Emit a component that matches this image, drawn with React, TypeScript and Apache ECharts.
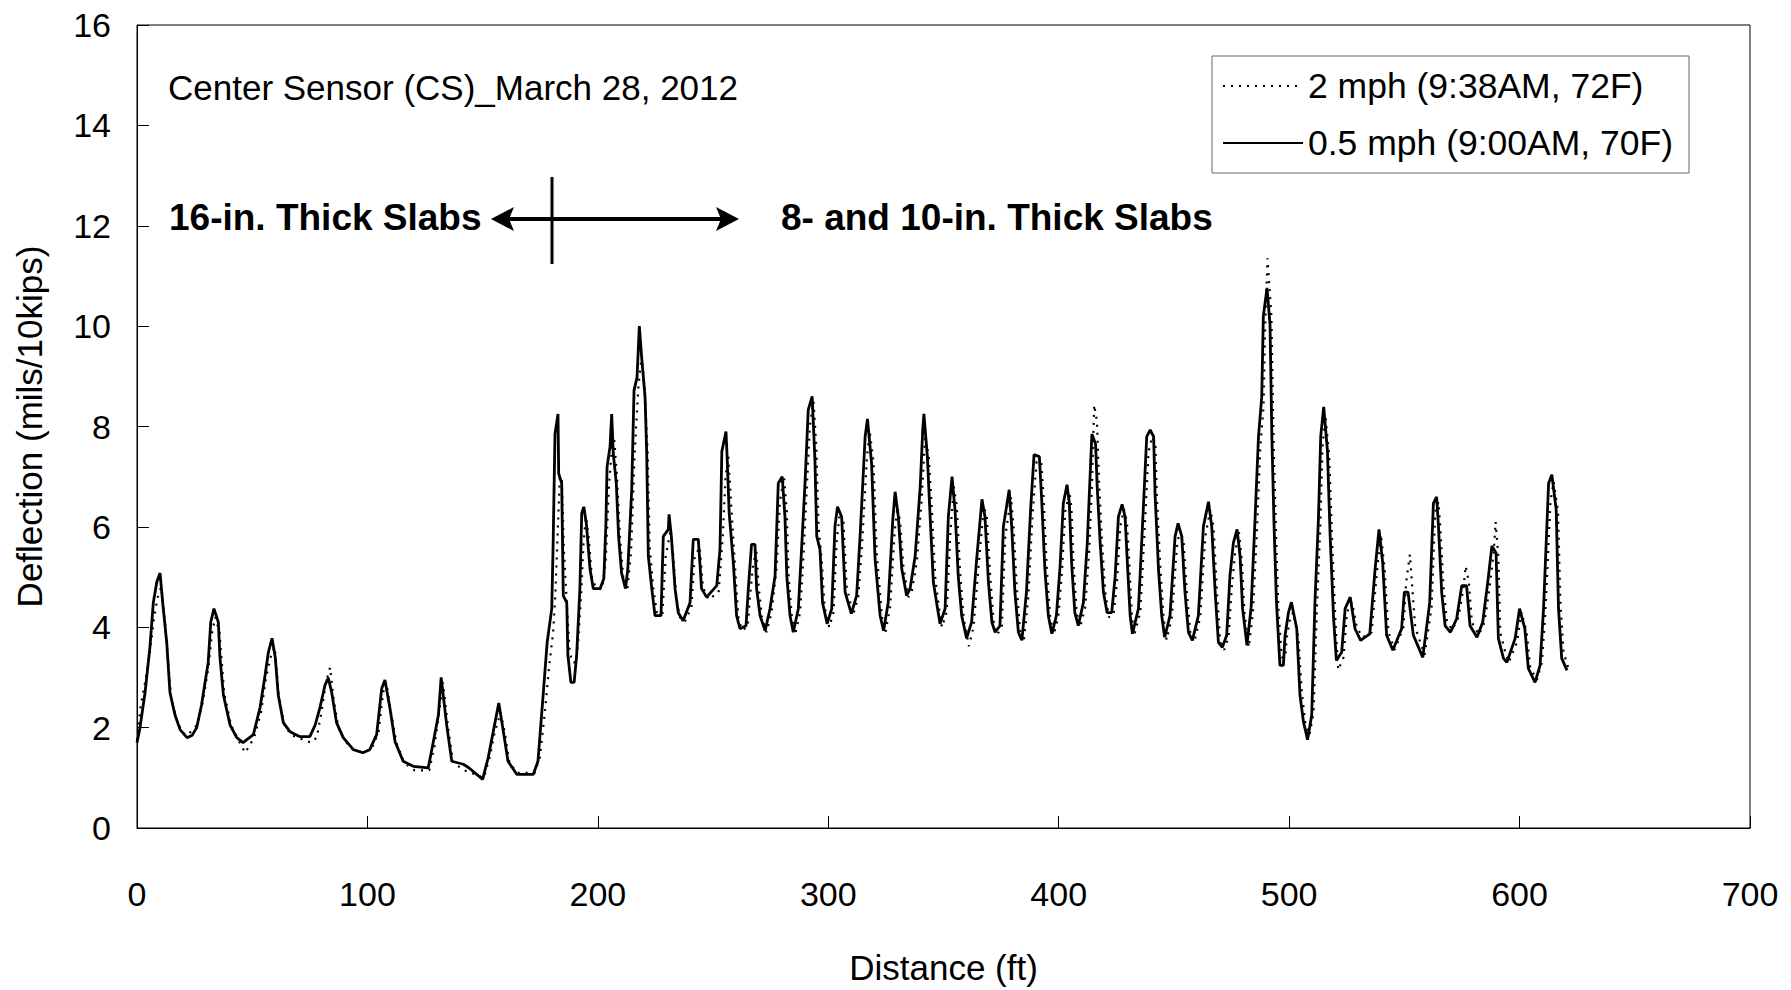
import React, { useEffect, useRef } from "react";
import * as echarts from "echarts";

// Distance (ft) vs deflection (mils/10kips)
const solid05mph: number[][] = [
  [0,1.7],[1.3,2.0],[3.5,2.7],[5.6,3.6],[7.1,4.5],[8.6,4.9],[10,5.08],[11.4,4.37],[12.9,3.7],[14.3,2.7],[16.5,2.25],[18.7,1.96],[21.7,1.8],[24,1.85],[25.9,2.0],[28,2.45],[30.9,3.3],[32,4.1],[33.4,4.37],[35.3,4.1],[36,3.4],[37.5,2.65],[40.4,2.05],[43.3,1.8],[46,1.7],[50.5,1.86],[53.4,2.4],[55.6,3.05],[57,3.5],[58.6,3.78],[60,3.4],[61.3,2.65],[63.5,2.1],[66.4,1.92],[70.7,1.82],[75,1.82],[77.3,2.05],[79.4,2.4],[81.6,2.85],[83,2.99],[84.5,2.7],[86.6,2.1],[89.5,1.8],[93.9,1.56],[98,1.5],[101,1.56],[104,1.86],[106.2,2.78],[107.6,2.95],[109.8,2.38],[112,1.72],[115.5,1.33],[119.9,1.23],[126.4,1.2],[128.6,1.72],[130.8,2.25],[132,3.0],[134.4,2.05],[136.6,1.33],[141.6,1.27],[144,1.2],[150,0.97],[152.4,1.4],[154.6,1.92],[157,2.49],[159,1.92],[161,1.33],[164.8,1.07],[172,1.07],[174,1.33],[176,2.5],[178,3.7],[180,4.37],[180.6,5.68],[181.4,7.85],[182.7,8.25],[183,7.06],[184.3,6.87],[185,4.63],[186.5,4.49],[187,3.44],[188.3,2.9],[189.7,2.9],[190.8,3.44],[192.2,4.77],[193,6.27],[193.9,6.4],[195,6.07],[196.6,5.16],[198,4.77],[201,4.77],[202.6,4.97],[203.5,6.07],[204,7.2],[205.3,7.6],[206,8.25],[206.7,7.46],[208,6.87],[209,5.81],[210.3,5.08],[212,4.77],[213,5.16],[214.7,6.74],[215.7,8.72],[217,8.98],[218,10.0],[219,9.38],[220.5,8.58],[221.2,7.46],[221.9,5.42],[223.4,4.77],[224.8,4.23],[227.4,4.23],[228.4,5.81],[230.6,5.95],[230.9,6.25],[231.9,5.81],[233.5,4.77],[234.9,4.29],[237,4.13],[240,4.49],[241.4,5.75],[243.6,5.75],[245,4.77],[247.2,4.6],[251.6,4.83],[253,5.55],[253.8,7.5],[255.6,7.9],[256,7.5],[257,6.27],[258.8,5.28],[260.2,4.23],[261.7,3.97],[264.3,4.03],[265.3,4.77],[266.7,5.65],[268.2,5.65],[268.9,4.77],[270.4,4.23],[272.6,3.93],[274.7,4.37],[276.9,5.02],[278.3,6.87],[280,7.0],[281.2,6.2],[282,5.02],[283.4,4.23],[284.8,3.9],[287,4.37],[288.4,5.55],[289.9,6.87],[291.3,8.33],[293,8.6],[294.2,7.34],[295,5.81],[296.4,5.55],[297.5,4.49],[299.5,4.07],[301.5,4.37],[302.9,6.01],[304,6.4],[305.8,6.2],[307.3,4.7],[310,4.27],[312.3,4.63],[313.8,5.81],[316,7.8],[317,8.15],[318.8,7.26],[320.3,5.36],[322.5,4.23],[324,3.93],[326,4.49],[328,6.15],[329,6.7],[330.4,6.2],[331.9,5.16],[334,4.63],[335.5,4.77],[337.7,5.42],[339.9,6.8],[341,7.95],[341.5,8.25],[343,7.4],[344.2,6.2],[345.6,4.9],[347,4.49],[348.5,4.07],[350.7,4.37],[352.1,6.2],[353.7,7.0],[355,6.34],[356.4,5.02],[357.9,4.23],[360,3.78],[362.2,4.1],[364.4,5.36],[366.7,6.55],[368,6.2],[369.5,4.9],[371,4.1],[372.4,3.9],[374.5,4.03],[376,6.01],[378.5,6.74],[379.6,6.01],[381,4.7],[382.5,3.9],[384,3.74],[386,4.7],[387.8,6.34],[389.3,7.44],[391.6,7.4],[392.6,6.55],[394,5.16],[395.5,4.23],[397,3.87],[399,4.23],[400.6,5.22],[402,6.47],[403.6,6.84],[404.6,6.47],[405.6,5.28],[407,4.29],[408.5,4.03],[410.7,4.49],[412.4,5.68],[413.6,7.0],[414.4,7.85],[416,7.65],[416.7,6.8],[418,5.68],[419.4,4.7],[421,4.29],[423,4.29],[424.5,5.02],[425.9,6.2],[427.5,6.45],[428.8,6.2],[429.8,5.28],[431,4.23],[432,3.87],[434.6,4.37],[436,5.68],[438.2,7.8],[439.7,7.93],[441.2,7.8],[441.8,6.67],[443.3,5.16],[444.7,4.23],[446,3.8],[448.3,4.23],[450.5,5.81],[451.8,6.07],[453.4,5.81],[454.8,4.7],[456.3,3.9],[458,3.74],[460.6,4.23],[462.8,6.01],[465,6.5],[466.4,6.01],[467.9,4.7],[469.3,3.7],[471,3.6],[472.9,3.84],[474.3,5.02],[475.8,5.68],[477.4,5.95],[478.7,5.42],[479.8,4.37],[481.7,3.64],[483.5,4.4],[485.2,6.15],[486.7,7.8],[488.1,8.58],[488.8,10.2],[490.4,10.76],[491.7,10.03],[492.5,7.8],[493.5,5.95],[494.5,4.5],[496,3.24],[497.5,3.24],[498.2,3.83],[499.7,4.29],[501,4.5],[503.3,3.97],[504.7,2.65],[506.2,2.12],[508,1.76],[509.8,2.25],[511.2,4.49],[512.7,6.15],[513.7,7.8],[515,8.39],[516.6,7.53],[517.8,5.81],[519.3,4.17],[520.5,3.34],[522.8,3.5],[524.3,4.37],[526.5,4.6],[528.6,3.97],[531,3.74],[535,3.87],[537.3,5.16],[539,5.95],[540.6,5.28],[542.3,3.84],[545,3.54],[548.8,3.97],[550,4.7],[551.6,4.7],[553.9,3.84],[558,3.4],[561,4.49],[562.6,6.47],[564,6.6],[564.8,6.01],[566.2,4.7],[567.7,4.03],[570,3.9],[572.7,4.17],[574.9,4.83],[577,4.83],[578.5,4.03],[581.5,3.8],[584,4.1],[586.2,4.9],[588,5.62],[589.8,5.48],[590.8,3.78],[593,3.38],[594.5,3.3],[598.1,3.78],[600,4.37],[602.3,3.97],[603.8,3.18],[606.7,2.9],[608.9,3.24],[610.4,4.37],[612.6,6.87],[614,7.04],[615.9,6.34],[616.9,4.37],[618.3,3.38],[620.6,3.14]
];

const dotted2mph: number[][] = [
  [0,1.75],[1.5,2.4],[3.5,2.9],[5.6,3.5],[7.4,4.2],[9,4.6],[10.5,4.8],[11.8,4.3],[13.2,3.5],[14.8,2.6],[17,2.2],[19.5,1.9],[22,1.85],[26,2.05],[28.5,2.5],[31,3.2],[32.6,3.9],[34,4.2],[35.8,3.9],[37.8,2.7],[40.8,2.05],[44,1.75],[47,1.5],[50.8,1.8],[53.8,2.3],[56,3.0],[58.5,3.5],[59.8,3.6],[61.6,2.6],[64,2.05],[67,1.85],[71,1.78],[75.5,1.7],[78,1.8],[80,2.3],[82,2.9],[83.8,3.2],[85.2,2.6],[87.4,2.0],[90,1.75],[94,1.55],[98.5,1.5],[102,1.6],[104.8,1.9],[106.8,2.7],[108.2,2.9],[110.2,2.3],[112.6,1.7],[116,1.3],[120.5,1.15],[126.8,1.15],[129,1.6],[131.4,2.4],[132.8,2.9],[135,2.0],[137.2,1.3],[142,1.15],[145,1.1],[150.5,1.0],[153,1.4],[155.2,1.9],[157.8,2.3],[159.6,1.9],[161.6,1.3],[165,1.1],[172.6,1.1],[174.8,1.4],[177,2.3],[178.8,3.2],[180.6,3.9],[181.5,4.6],[182.5,5.8],[183.5,7.0],[184.3,7.0],[185.3,5.5],[186.6,4.4],[187.8,3.5],[189,3.3],[190.6,3.3],[191.6,3.8],[192.8,4.7],[193.8,5.7],[194.8,6.2],[196,5.8],[197.4,5.0],[199,4.8],[201.8,4.75],[203.4,5.3],[204.8,6.8],[206.3,7.7],[207,7.8],[208.3,7.0],[209.6,5.8],[211,5.0],[212.8,4.75],[214.4,5.5],[216,7.5],[217.6,8.8],[219,9.4],[220.2,8.8],[221.6,7.5],[222.5,5.6],[224,4.8],[225.6,4.3],[228,4.25],[229.4,5.4],[231.4,5.9],[232.6,5.5],[234,4.6],[235.6,4.2],[237.6,4.1],[240.6,4.4],[242,5.4],[244.2,5.6],[245.6,4.8],[248,4.55],[252.4,4.7],[254.2,5.8],[255.4,7.0],[256.6,7.4],[257.8,6.5],[259.4,5.3],[261,4.2],[262.4,3.95],[265,4.0],[266,4.6],[267.5,5.3],[268.8,5.5],[269.8,4.8],[271.2,4.2],[273.2,3.9],[275.4,4.3],[277.6,5.2],[279,6.5],[280.8,7.0],[282,6.3],[282.8,5.0],[284.2,4.2],[285.6,3.85],[287.8,4.3],[289.2,5.4],[290.6,6.7],[292,8.0],[293.6,8.5],[294.8,7.6],[295.8,6.0],[297.2,5.3],[298.4,4.4],[300.4,4.0],[302.3,4.3],[303.6,5.7],[304.8,6.2],[306.6,6.1],[308,4.8],[310.8,4.25],[313,4.6],[314.6,5.6],[316.8,7.4],[318,7.9],[319.6,7.3],[321,5.5],[323.3,4.2],[324.8,3.9],[326.8,4.4],[328.8,5.9],[330,6.4],[331.2,6.1],[332.6,5.2],[334.8,4.6],[336.2,4.7],[338.4,5.3],[340.6,6.6],[342,7.8],[343.6,7.4],[345,6.3],[346.4,5.0],[348,4.4],[349.3,4.0],[351.4,4.3],[353,5.9],[354.5,6.8],[355.8,6.4],[357.2,5.1],[358.7,4.2],[361,3.62],[363,4.0],[365.2,5.2],[367.5,6.4],[368.8,6.2],[370.3,5.0],[371.8,4.1],[373.2,3.85],[375.3,4.0],[376.8,5.8],[379.3,6.6],[380.4,6.0],[381.8,4.8],[383.3,3.9],[384.8,3.7],[386.8,4.6],[388.6,6.2],[390.4,7.3],[392.4,7.3],[393.4,6.6],[394.8,5.2],[396.3,4.2],[397.8,3.85],[399.8,4.2],[401.4,5.1],[402.8,6.3],[404.6,6.7],[405.5,6.4],[406.4,5.3],[407.8,4.3],[409.3,4.0],[411.5,4.4],[413.2,5.5],[414.4,6.8],[415.4,8.43],[416.6,8.1],[417.5,6.9],[418.8,5.7],[420.2,4.7],[421.8,4.2],[423.8,4.25],[425.3,4.9],[426.7,6.0],[428.3,6.35],[429.6,6.1],[430.6,5.3],[431.8,4.2],[432.8,3.85],[435.4,4.3],[436.8,5.5],[439,7.5],[440.6,7.8],[442,7.6],[442.6,6.6],[444.1,5.2],[445.5,4.2],[446.8,3.75],[449.1,4.2],[451.3,5.6],[452.6,5.95],[454.2,5.7],[455.6,4.7],[457.1,3.9],[458.8,3.7],[461.4,4.2],[463.6,5.8],[465.8,6.35],[467.2,6.0],[468.7,4.7],[470.1,3.7],[471.8,3.55],[473.7,3.8],[475.1,4.8],[476.6,5.5],[478.2,5.9],[479.5,5.3],[480.6,4.3],[482.5,3.6],[484.3,4.3],[486,5.9],[487.5,7.6],[488.9,8.4],[489.6,10.0],[490.6,11.35],[492.3,10.2],[493.3,7.6],[494.3,5.9],[495.3,4.4],[496.8,3.4],[498.3,3.4],[499,3.8],[500.5,4.2],[501.8,4.3],[504,3.8],[505.5,2.7],[507,2.1],[508.8,1.85],[510.6,2.3],[512,4.3],[513.5,6.0],[514.5,7.6],[515.8,8.2],[517.4,7.4],[518.6,5.8],[520.1,4.1],[521.3,3.15],[523.6,3.4],[525.1,4.3],[527.3,4.5],[529.4,4.0],[531.8,3.8],[535.8,3.9],[538.1,5.1],[539.8,5.85],[541.4,5.2],[543.1,3.9],[545.8,3.55],[549.6,4.0],[550.8,4.9],[552.4,5.45],[554.7,4.0],[558.8,3.45],[561.8,4.4],[563.4,6.3],[564.8,6.5],[565.6,6.0],[567,4.8],[568.5,4.1],[570.8,3.95],[573.5,4.2],[575.7,4.8],[576.6,5.22],[578,4.9],[579.3,4.1],[582.3,3.85],[584.8,4.1],[587,4.8],[588.8,5.5],[589.6,6.1],[590.8,5.4],[591.6,3.9],[593.8,3.5],[595.3,3.3],[598.9,3.7],[600.8,4.3],[603.1,3.9],[604.6,3.2],[607.5,2.95],[609.7,3.3],[611.2,4.3],[613.4,6.5],[614.8,6.9],[616.7,6.3],[617.7,4.5],[619.1,3.5],[621.4,3.15]
];

const seriesNames = ["2 mph (9:38AM, 72F)", "0.5 mph (9:00AM, 70F)"];
const chartNote = "Center Sensor (CS)_March 28, 2012";
const leftLabel = "16-in. Thick Slabs";
const rightLabel = "8- and 10-in. Thick Slabs";

const FONT = "Liberation Sans";

export default function App() {
  const ref = useRef<HTMLDivElement>(null);

  useEffect(() => {
    if (!ref.current) return;
    const chart = echarts.init(ref.current, null, { renderer: "svg" });
    const arrowY = 219;
    chart.setOption({
      animation: false,
      backgroundColor: "#fff",
      textStyle: { fontFamily: FONT, color: "#000" },
      grid: {
        left: 137,
        top: 25,
        right: 41,
        bottom: 156,
        show: true,
        borderColor: "#000",
        borderWidth: 1,
        backgroundColor: "transparent",
      },
      legend: {
        orient: "vertical",
        left: 1212,
        top: 56,
        padding: [10, 16, 10, 10],
        itemGap: 17,
        itemWidth: 80,
        itemHeight: 20,
        borderColor: "#666",
        borderWidth: 1,
        backgroundColor: "#fff",
        itemStyle: { opacity: 0 },
        textStyle: { fontSize: 35.5, fontFamily: FONT, color: "#000", lineHeight: 40 },
        data: seriesNames,
      },
      xAxis: {
        type: "value",
        min: 0,
        max: 700,
        interval: 100,
        name: "Distance (ft)",
        nameLocation: "middle",
        nameGap: 122,
        nameTextStyle: { fontSize: 35, fontFamily: FONT, color: "#000" },
        axisLine: { show: true, lineStyle: { color: "#000", width: 1 } },
        axisTick: { show: true, inside: true, length: 12, lineStyle: { color: "#000" } },
        axisLabel: { fontSize: 34, fontFamily: FONT, color: "#000", margin: 49 },
        splitLine: { show: false },
      },
      yAxis: {
        type: "value",
        min: 0,
        max: 16,
        interval: 2,
        name: "Deflection (mils/10kips)",
        nameLocation: "middle",
        nameGap: 90,
        nameTextStyle: { fontSize: 35, fontFamily: FONT, color: "#000" },
        axisLine: { show: true, lineStyle: { color: "#000", width: 1 } },
        axisTick: { show: true, inside: true, length: 12, lineStyle: { color: "#000" } },
        axisLabel: { fontSize: 34, fontFamily: FONT, color: "#000", margin: 26 },
        splitLine: { show: false },
      },
      series: [
        {
          name: seriesNames[0],
          type: "line",
          data: dotted2mph,
          symbol: "none",
          lineStyle: { color: "#000", width: 2.2, type: [2, 6] },
          itemStyle: { color: "#000" },
          z: 2,
        },
        {
          name: seriesNames[1],
          type: "line",
          data: solid05mph,
          symbol: "none",
          lineStyle: { color: "#000", width: 2.8 },
          itemStyle: { color: "#000" },
          z: 3,
        },
      ],
      graphic: [
        {
          type: "text",
          x: 168,
          y: 87,
          style: { text: chartNote, fontSize: 35, fontFamily: FONT, fill: "#000", verticalAlign: "middle" },
        },
        {
          type: "text",
          x: 169,
          y: 217,
          style: { text: leftLabel, fontSize: 37, fontWeight: "bold", fontFamily: FONT, fill: "#000", verticalAlign: "middle" },
        },
        {
          type: "text",
          x: 781,
          y: 217,
          style: { text: rightLabel, fontSize: 37, fontWeight: "bold", fontFamily: FONT, fill: "#000", verticalAlign: "middle" },
        },
        {
          type: "line",
          shape: { x1: 505, y1: arrowY, x2: 725, y2: arrowY },
          style: { stroke: "#000", lineWidth: 4 },
        },
        {
          type: "polygon",
          shape: { points: [[491, arrowY], [514, arrowY - 12], [509, arrowY], [514, arrowY + 12]] },
          style: { fill: "#000" },
        },
        {
          type: "polygon",
          shape: { points: [[739, arrowY], [716, arrowY - 12], [721, arrowY], [716, arrowY + 12]] },
          style: { fill: "#000" },
        },
        {
          type: "line",
          shape: { x1: 552, y1: 177, x2: 552, y2: 264 },
          style: { stroke: "#000", lineWidth: 3 },
        },
      ],
    });
    return () => chart.dispose();
  }, []);

  return (
    <div
      ref={ref}
      style={{ position: "absolute", left: 0, top: 0, width: 1791, height: 990, background: "#fff" }}
    />
  );
}
